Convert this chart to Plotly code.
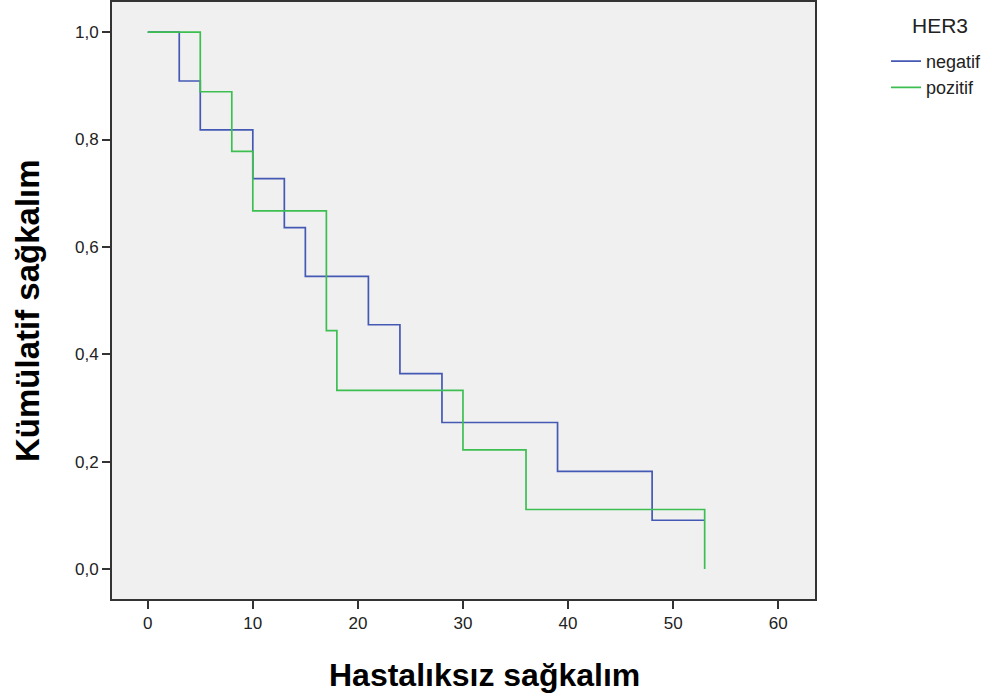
import plotly.graph_objects as go

# Kaplan-Meier data
neg_times = [0, 3, 5, 10, 13, 15, 21, 24, 28, 39, 48, 53]
neg_surv = [1.0, 0.909, 0.818, 0.727, 0.636, 0.545, 0.455, 0.364, 0.273, 0.182, 0.091, 0.091]
pos_times = [0, 5, 8, 10, 17, 18, 30, 36, 53]
pos_surv = [1.0, 0.889, 0.778, 0.667, 0.444, 0.333, 0.222, 0.111, 0.0]

x_ticks = [0, 10, 20, 30, 40, 50, 60]
y_ticks = [0.0, 0.2, 0.4, 0.6, 0.8, 1.0]
y_labels = ["0,0", "0,2", "0,4", "0,6", "0,8", "1,0"]

fig = go.Figure()
fig.add_trace(go.Scatter(x=neg_times, y=neg_surv, mode="lines", line_shape="hv",
                         line=dict(color="#4459b4", width=1.7), name="negatif"))
fig.add_trace(go.Scatter(x=pos_times, y=pos_surv, mode="lines", line_shape="hv",
                         line=dict(color="#3cbf50", width=1.7), name="pozitif"))

font_family = "Liberation Sans, Arial, sans-serif"
L, T, W, H = 112, 0, 703, 599
fig.update_layout(
    width=994, height=698,
    margin=dict(l=L, r=994 - L - W, t=T, b=698 - T - H),
    paper_bgcolor="white", plot_bgcolor="#f0f0f0",
    font=dict(family=font_family, size=17, color="#222"),
    showlegend=True,
    legend=dict(x=(886 - L) / W, y=1 - (41 - T) / H, xanchor="left", yanchor="top",
                bgcolor="rgba(0,0,0,0)", font=dict(size=18, color="#222"),
                tracegroupgap=0, itemwidth=30),
    xaxis=dict(range=[-3.4, 63.5], tickvals=x_ticks, ticks="outside", ticklen=8,
               tickwidth=2, tickcolor="#333", showgrid=False, zeroline=False,
               showline=True, linecolor="#333", linewidth=2, mirror=True,
               tickfont=dict(size=17, color="#222")),
    yaxis=dict(range=[-0.0557, 1.0561], tickvals=y_ticks, ticktext=y_labels,
               ticks="outside", ticklen=8, tickwidth=2, tickcolor="#333",
               showgrid=False, zeroline=False, showline=True, linecolor="#333",
               linewidth=2, mirror=True, tickfont=dict(size=17, color="#222")),
    annotations=[
        dict(text="HER3", xref="paper", yref="paper", x=(940 - L) / W,
             y=1 - (24 - T) / H, xanchor="center", yanchor="middle", showarrow=False,
             font=dict(size=21, color="#222")),
        dict(text="<b>Hastalıksız sağkalım</b>", xref="paper", yref="paper",
             x=(484 - L) / W, y=1 - (675 - T) / H, xanchor="center", yanchor="middle",
             showarrow=False, font=dict(size=32, color="black")),
        dict(text="<b>Kümülatif sağkalım</b>", xref="paper", yref="paper",
             x=(28 - L) / W, y=1 - (310 - T) / H, xanchor="center",
             yanchor="middle", textangle=-90, showarrow=False,
             font=dict(size=33, color="black")),
    ],
)

fig.write_html("out.html")
